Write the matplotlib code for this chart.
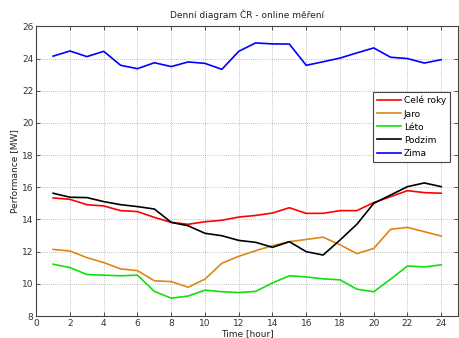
import matplotlib
matplotlib.use("Agg")
import matplotlib.pyplot as plt

# hodiny a vykon [MW] pro jednotliva obdobi
hours = list(range(1, 25))
cele_roky = [15.34, 15.25, 14.92, 14.84, 14.55, 14.49, 14.13, 13.82, 13.70, 13.86, 13.95, 14.15,
             14.25, 14.40, 14.73, 14.38, 14.38, 14.55, 14.55, 15.05, 15.42, 15.79, 15.67, 15.63]
jaro = [12.14, 12.04, 11.63, 11.32, 10.93, 10.82, 10.19, 10.14, 9.79, 10.29, 11.28, 11.71,
        12.06, 12.37, 12.62, 12.76, 12.90, 12.43, 11.88, 12.20, 13.39, 13.51, 13.24, 12.97]
leto = [11.22, 11.01, 10.58, 10.54, 10.50, 10.54, 9.53, 9.11, 9.24, 9.61, 9.51, 9.46,
        9.53, 10.06, 10.50, 10.43, 10.31, 10.25, 9.67, 9.51, 10.29, 11.11, 11.05, 11.18]
podzim = [15.63, 15.38, 15.36, 15.11, 14.92, 14.80, 14.65, 13.82, 13.61, 13.14, 12.99, 12.70,
          12.58, 12.27, 12.62, 12.00, 11.79, 12.72, 13.70, 15.00, 15.52, 16.04, 16.27, 16.04]
zima = [24.15, 24.47, 24.12, 24.45, 23.58, 23.37, 23.74, 23.50, 23.79, 23.70, 23.33, 24.45,
        24.97, 24.91, 24.90, 23.58, 23.80, 24.03, 24.35, 24.66, 24.08, 24.00, 23.72, 23.93]

labels = ["Celé roky", "Jaro", "Léto", "Podzim", "Zima"]
colors = ["#ff0000", "#e08515", "#10e010", "#000000", "#0000ff"]
series = [cele_roky, jaro, leto, podzim, zima]

plt.rcParams['font.family'] = ['DejaVu Sans']
plt.rcParams['font.size'] = 6.5

fig = plt.figure(figsize=(4.59, 3.38), dpi=100)
ax = fig.add_axes([0.079, 0.065, 0.919, 0.857])

for vals, c, lab in zip(series, colors, labels):
    ax.plot(hours, vals, color=c, lw=1.2, label=lab)

ax.set_xlim(0, 25)
ax.set_ylim(8, 26)
ax.set_xticks(range(0, 25, 2))
ax.set_yticks(range(8, 27, 2))
ax.grid(True, linestyle=(0, (1, 2)), color="#8a8a8a", lw=0.5)
ax.tick_params(direction="in", top=True, right=True, length=3, width=0.6,
               colors="#333333", labelsize=6.5, pad=2)
for s in ax.spines.values():
    s.set_color("#444444")
    s.set_linewidth(0.8)

ax.set_title("Denní diagram ČR - online měření", fontsize=6.5, pad=6, color="#222222")
ax.set_xlabel("Time [hour]", fontsize=6.5, labelpad=1, color="#222222")
ax.set_ylabel("Performance [MW]", fontsize=6.5, labelpad=2, color="#222222")

leg = ax.legend(loc="upper right", bbox_to_anchor=(0.985, 0.78), fancybox=False,
                fontsize=6.5, handlelength=2.6, labelspacing=0.45, borderpad=0.45,
                handletextpad=0.3, borderaxespad=0.2, framealpha=1)
leg.get_frame().set_edgecolor("#444444")
leg.get_frame().set_linewidth(0.8)

fig.savefig("out.png", dpi=100)
